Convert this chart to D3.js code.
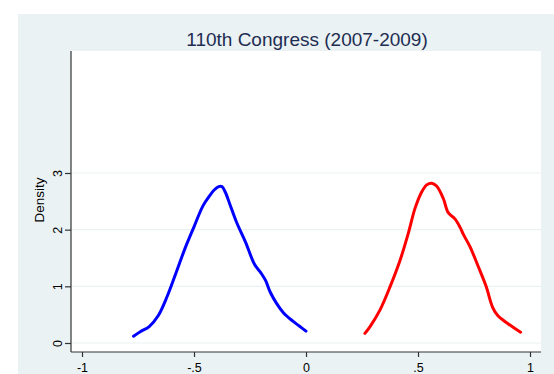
<!DOCTYPE html>
<html><head><meta charset="utf-8">
<script src="https://cdn.jsdelivr.net/npm/d3@7"></script>
<style>body{margin:0;background:#fff}svg{display:block}</style>
</head><body>
<script>
const title = "110th Congress (2007-2009)";
const yLabel = "Density";
const xTicks = [-1, -0.5, 0, 0.5, 1];
const xTickLabels = ["-1", "-.5", "0", ".5", "1"];
const yTicks = [0, 1, 2, 3];
const yTickLabels = ["0", "1", "2", "3"];
const demX = [-0.77,-0.74,-0.70,-0.66,-0.62,-0.58,-0.54,-0.50,-0.46,-0.43,-0.41,-0.39,-0.375,-0.36,-0.34,-0.31,-0.27,-0.23,-0.20,-0.18,-0.16,-0.13,-0.10,-0.06,-0.03,0.00];
const demY = [0.12,0.2,0.29,0.48,0.82,1.24,1.67,2.05,2.42,2.6,2.7,2.76,2.76,2.66,2.45,2.13,1.78,1.39,1.23,1.1,0.9,0.69,0.53,0.39,0.3,0.21];
const repX = [0.263,0.286,0.330,0.375,0.420,0.457,0.487,0.517,0.539,0.561,0.583,0.613,0.635,0.665,0.688,0.702,0.732,0.769,0.804,0.833,0.857,0.902,0.958];
const repY = [0.17,0.29,0.58,0.99,1.46,1.94,2.38,2.67,2.79,2.82,2.77,2.55,2.30,2.19,2.04,1.92,1.70,1.35,1.0,0.63,0.48,0.34,0.19];

const W = 554, H = 374;
const FONT = "'Liberation Sans', Arial, sans-serif";
const svg = d3.select("body").append("svg").attr("width", W).attr("height", H)
  .style("font-family", FONT);
svg.append("rect").attr("x", 18).attr("y", 14).attr("width", W - 18).attr("height", H - 14).attr("fill", "#eaf2f3");
const L = 71, R = 541, T = 51, B = 352;
svg.append("rect").attr("x", L).attr("y", T).attr("width", R - L).attr("height", B - T).attr("fill", "#fff");

const x = d3.scaleLinear().domain([-1, 1]).range([82, 530]);
const y = d3.scaleLinear().domain([0, 3]).range([343, 173]);

// grid
svg.append("g").selectAll("line").data(yTicks).join("line")
  .attr("x1", L + 1).attr("x2", R).attr("y1", d => y(d)).attr("y2", d => y(d))
  .attr("stroke", "#eaf2f3").attr("stroke-width", 1.2);

// axes
const xa = svg.append("g").attr("transform", `translate(0,${B})`)
  .call(d3.axisBottom(x).tickValues(xTicks).tickFormat((d, i) => xTickLabels[i]).tickSize(5).tickPadding(6));
xa.select(".domain").attr("d", `M${L},0H${R}`);
const ya = svg.append("g").attr("transform", `translate(${L},0)`)
  .call(d3.axisLeft(y).tickValues(yTicks).tickFormat((d, i) => yTickLabels[i]).tickSize(6).tickPadding(3));
ya.select(".domain").attr("d", `M0,${T}V${B}`);
[xa, ya].forEach(g => {
  g.select(".domain").attr("stroke", "#333").attr("stroke-width", 1.2);
  g.selectAll(".tick line").attr("stroke", "#333").attr("stroke-width", 1.2);
  g.selectAll("text").attr("fill", "#000").attr("font-size", 12.5).attr("font-family", FONT);
});
ya.selectAll(".tick text").attr("text-anchor", "middle").attr("dy", 0)
  .attr("x", 0).attr("y", 0)
  .attr("transform", "translate(-9,0) rotate(-90)");

svg.append("text").attr("transform", "translate(44,200) rotate(-90)")
  .attr("text-anchor", "middle").attr("font-size", 13.5).attr("fill", "#000").text(yLabel);
svg.append("text").attr("x", 307).attr("y", 46).attr("text-anchor", "middle")
  .attr("font-size", 19).attr("fill", "#1e2d52").text(title);

const line = d3.line().x(d => x(d[0])).y(d => y(d[1])).curve(d3.curveCatmullRom);
svg.append("path").datum(d3.zip(demX, demY)).attr("d", line)
  .attr("fill", "none").attr("stroke", "#0000ff").attr("stroke-width", 3).attr("stroke-linecap", "round").attr("stroke-linejoin", "round");
svg.append("path").datum(d3.zip(repX, repY)).attr("d", line)
  .attr("fill", "none").attr("stroke", "#ff0000").attr("stroke-width", 3).attr("stroke-linecap", "round").attr("stroke-linejoin", "round");
</script>
</body></html>
